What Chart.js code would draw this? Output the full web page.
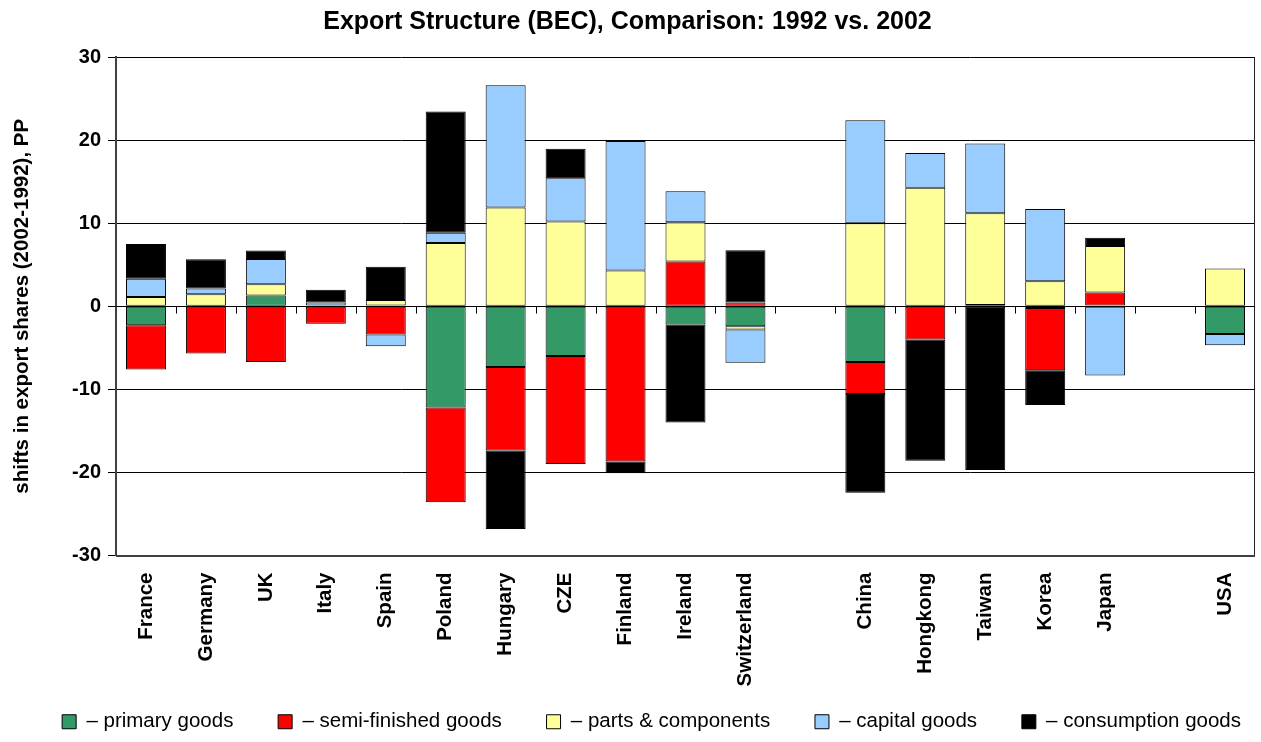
<!DOCTYPE html>
<html>
<head>
<meta charset="utf-8">
<script src="https://cdn.jsdelivr.net/npm/chart.js@4/dist/chart.umd.min.js"></script>
<style>
html,body{margin:0;padding:0;background:#fff;}
#wrap{width:1261px;height:742px;}
</style>
</head>
<body>
<div id="wrap"><canvas id="c" width="1261" height="742"></canvas></div>
<script>
const categories = ['France','Germany','UK','Italy','Spain','Poland','Hungary','CZE','Finland','Ireland','Switzerland','','China','Hongkong','Taiwan','Korea','Japan','','USA'];
const primaryGoods      = [-2.3, 0,    1.3,  0,    0.1,  -12.2, -7.3,  -6.0,  0,     -2.2,  -2.4, null, -6.7,  0,     0.15,  -0.2, 0.1,   null, -3.35];
const semiFinished      = [-5.3, -5.7, -6.7, -2.1, -3.4, -11.4, -10.05,-13.0, -18.7, 5.4,   0.45, null, -3.85, -4.0,  0,     -7.5, 1.55,  null, 0];
const partsComponents   = [1.1,  1.45, 1.35, 0.1,  0.65, 7.6,   11.9,  10.2,  4.3,   4.7,   -0.4, null, 10.0,  14.25, 11.05, 3.0,  5.6,   null, 4.55];
const capitalGoods      = [2.2,  0.7,  3.05, 0.35, -1.4, 1.25,  14.7,  5.2,   15.6,  3.75,  -4.0, null, 12.4,  4.2,   8.4,   8.7,  -8.35, null, -1.35];
const consumptionGoods  = [4.2,  3.5,  1.0,  1.55, 4.0,  14.6,  -9.45, 3.55,  -1.4,  -11.8, 6.3,  null, -11.9, -14.6, -19.7, -4.2, 1.0,   null, 0];
const seriesNames = ['– primary goods','– semi-finished goods','– parts & components','– capital goods','– consumption goods'];
const seriesColors = ['#339966','#FF0000','#FFFF99','#99CCFF','#000000'];
const yTicks = [-30,-20,-10,0,10,20,30];

const FONT = "'Liberation Sans', Arial, Helvetica, sans-serif";

const frame = {
  id: 'frame',
  afterDatasetsDraw(chart) {
    const {ctx, scales: {x, y}, chartArea: a} = chart;
    const y0 = Math.round(y.getPixelForValue(0)) + 0.5;
    ctx.save();
    ctx.strokeStyle = '#000';
    ctx.lineWidth = 1;
    ctx.beginPath();
    ctx.moveTo(a.left, y0); ctx.lineTo(a.right, y0);
    const half = (x.getPixelForValue(1) - x.getPixelForValue(0)) / 2;
    for (let i = 1; i < categories.length; i++) {
      const px = Math.round(x.getPixelForValue(i) - half) + 0.5;
      ctx.moveTo(px, y0); ctx.lineTo(px, y0 + 7);
    }
    ctx.stroke();
    ctx.beginPath();
    ctx.strokeStyle = '#222';
    ctx.moveTo(Math.round(a.right) - 0.5, a.top); ctx.lineTo(Math.round(a.right) - 0.5, a.bottom);
    ctx.stroke();
    ctx.beginPath();
    ctx.strokeStyle = '#404040';
    ctx.lineWidth = 2;
    ctx.moveTo(a.left, Math.round(a.bottom)); ctx.lineTo(a.right, Math.round(a.bottom));
    ctx.stroke();
    ctx.restore();
  }
};

const datasets = [primaryGoods, semiFinished, partsComponents, capitalGoods, consumptionGoods].map((d, i) => ({
  label: seriesNames[i],
  data: d,
  backgroundColor: seriesColors[i],
  borderColor: '#000',
  borderWidth: 1,
  borderSkipped: false,
  categoryPercentage: 1.0,
  barPercentage: 0.667
}));

new Chart(document.getElementById('c'), {
  type: 'bar',
  data: { labels: categories, datasets },
  options: {
    responsive: false,
    animation: false,
    devicePixelRatio: 1,
    layout: { padding: { left: 0, right: 6, top: 0, bottom: 0 } },
    plugins: {
      title: {
        display: true,
        text: 'Export Structure (BEC), Comparison: 1992 vs. 2002',
        color: '#000',
        font: { family: FONT, size: 25, weight: 'bold' },
        padding: { top: 7, bottom: 20 }
      },
      legend: {
        position: 'bottom',
        align: 'end',
        labels: {
          color: '#000',
          font: { family: FONT, size: 20.5 },
          boxWidth: 14,
          boxHeight: 14,
          padding: 14,
          generateLabels: chart => {
            const items = Chart.defaults.plugins.legend.labels.generateLabels(chart);
            items.forEach((it, i) => {
              if (i < items.length - 1) it.text = it.text + '\u2002\u2002\u2002';
            });
            return items;
          }
        }
      },
      tooltip: { enabled: false }
    },
    scales: {
      x: {
        stacked: true,
        grid: { display: false },
        border: { display: false },
        ticks: {
          autoSkip: false,
          maxRotation: 90,
          minRotation: 90,
          color: '#000',
          padding: 9,
          font: { family: FONT, size: 20.5, weight: 'bold' }
        },
        afterFit: s => { s.height = 142; }
      },
      y: {
        stacked: true,
        min: -30,
        max: 30,
        afterBuildTicks: s => { s.ticks = yTicks.map(v => ({ value: v })); },
        ticks: {
          color: '#000',
          padding: 7,
          font: { family: FONT, size: 20, weight: 'bold' }
        },
        grid: { color: '#000', lineWidth: 1, tickLength: 8 },
        border: { color: '#404040', width: 2 },
        title: {
          display: true,
          text: 'shifts in export shares (2002-1992), PP',
          color: '#000',
          font: { family: FONT, size: 20.5, weight: 'bold' },
          padding: { top: 10, bottom: 0 }
        },
        afterFit: s => { s.width = 116; }
      }
    }
  },
  plugins: [frame]
});
</script>
</body>
</html>
